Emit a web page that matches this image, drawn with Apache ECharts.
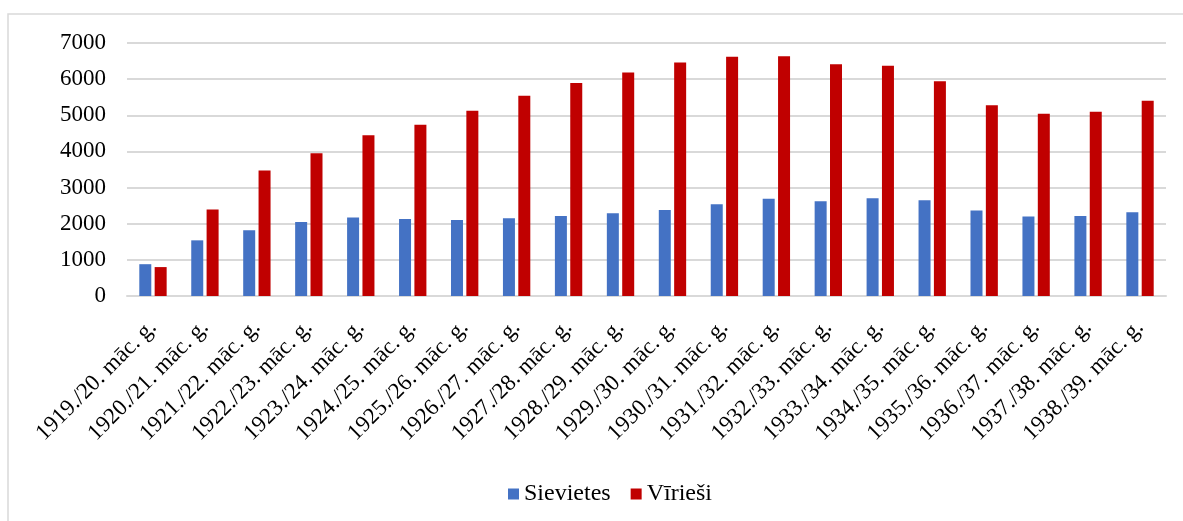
<!DOCTYPE html>
<html>
<head>
<meta charset="utf-8">
<script src="https://cdn.jsdelivr.net/npm/echarts@6/dist/echarts.min.js"></script>
<style>
  html, body { margin: 0; padding: 0; background: #fff; }
  #chart { width: 1183px; height: 521px; }
</style>
</head>
<body>
<div id="chart"></div>
<script>
// mācību gadi
var years = [
    '1919./20. māc. g.', '1920./21. māc. g.', '1921./22. māc. g.', '1922./23. māc. g.',
    '1923./24. māc. g.', '1924./25. māc. g.', '1925./26. māc. g.', '1926./27. māc. g.',
    '1927./28. māc. g.', '1928./29. māc. g.', '1929./30. māc. g.', '1930./31. māc. g.',
    '1931./32. māc. g.', '1932./33. māc. g.', '1933./34. māc. g.', '1934./35. māc. g.',
    '1935./36. māc. g.', '1936./37. māc. g.', '1937./38. māc. g.', '1938./39. māc. g.'
];
var sievietes = [880, 1540, 1820, 2050, 2170, 2130, 2100, 2150, 2215, 2290,
                 2380, 2540, 2690, 2620, 2705, 2650, 2365, 2200, 2215, 2320];
var viriesi = [800, 2390, 3470, 3950, 4450, 4740, 5125, 5540, 5890, 6185,
               6460, 6620, 6630, 6415, 6370, 5945, 5280, 5040, 5095, 5400];
var yTicks = { min: 0, max: 7000, interval: 1000 };

var font = '"Liberation Serif", serif';
var legendText = { fontFamily: font, fontSize: 24, color: '#000' };

var chart = echarts.init(document.getElementById('chart'));
chart.setOption({
    animation: false,
    backgroundColor: '#fff',
    textStyle: { fontFamily: font, color: '#000' },
    graphic: [{
        type: 'rect',
        shape: { x: 8, y: 14, width: 1200, height: 600 },
        style: { fill: 'none', stroke: '#d9d9d9', lineWidth: 1.5 },
        silent: true
    }],
    legend: {
        left: 503,
        top: 477,
        itemWidth: 11,
        itemHeight: 11,
        itemGap: 20,
        icon: 'rect',
        textStyle: legendText,
        data: ['Sievietes', 'Vīrieši']
    },
    grid: { left: 127, right: 17, top: 43, bottom: 225 },
    xAxis: {
        type: 'category',
        data: years,
        axisLine: { lineStyle: { color: '#d9d9d9', width: 2 } },
        axisTick: { show: false },
        axisLabel: {
            rotate: 45,
            margin: 28,
            interval: 0,
            fontFamily: font,
            fontSize: 23,
            color: '#000'
        }
    },
    yAxis: {
        type: 'value',
        min: yTicks.min,
        max: yTicks.max,
        interval: yTicks.interval,
        axisLine: { show: false },
        axisTick: { show: false },
        splitLine: { lineStyle: { color: '#d9d9d9', width: 2 } },
        axisLabel: {
            margin: 21,
            fontFamily: font,
            fontSize: 23,
            color: '#000',
            formatter: function (v) { return String(v); }
        }
    },
    series: [
        {
            name: 'Sievietes',
            type: 'bar',
            data: sievietes,
            barWidth: 12,
            barGap: '28%',
            itemStyle: { color: '#4472c4' }
        },
        {
            name: 'Vīrieši',
            type: 'bar',
            data: viriesi,
            barWidth: 12,
            barGap: '28%',
            itemStyle: { color: '#c00000' }
        }
    ]
});
</script>
</body>
</html>
